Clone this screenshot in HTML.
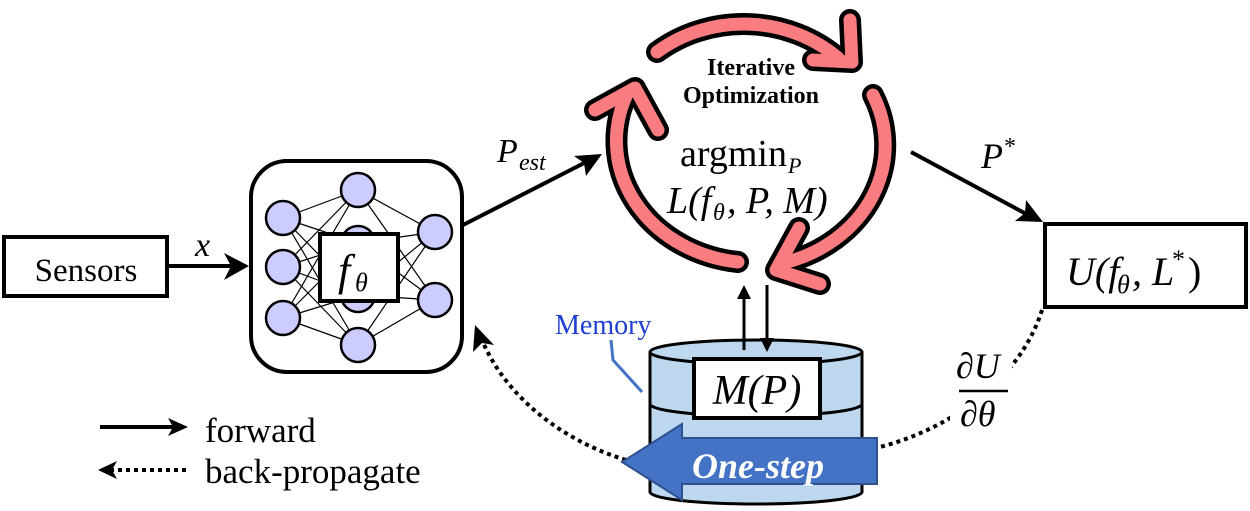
<!DOCTYPE html>
<html><head><meta charset="utf-8"><style>
html,body{margin:0;padding:0;background:#fff;}
svg{display:block;}
text{font-family:"Liberation Serif","DejaVu Serif",serif;}
</style></head><body>
<svg width="1250" height="511" viewBox="0 0 1250 511" xmlns="http://www.w3.org/2000/svg">

<!-- Sensors -->
<rect x="4" y="237" width="163" height="59" fill="#fff" stroke="#000" stroke-width="4"/>
<text x="86" y="281" font-size="33" text-anchor="middle">Sensors</text>
<line x1="167" y1="266" x2="236" y2="266" stroke="#000" stroke-width="4"/>
<polygon points="249,266 224,253 231,266 224,280" fill="#000"/>
<text x="195" y="256" font-size="34" font-style="italic">x</text>

<!-- NN box -->
<rect x="251" y="161" width="211" height="211" rx="36" fill="#fff" stroke="#000" stroke-width="4"/>
<g stroke="#000" stroke-width="1.2">
<line x1="283" y1="218" x2="358" y2="190"/><line x1="283" y1="218" x2="358" y2="243"/><line x1="283" y1="218" x2="358" y2="295"/><line x1="283" y1="218" x2="358" y2="345"/>
<line x1="283" y1="267" x2="358" y2="190"/><line x1="283" y1="267" x2="358" y2="243"/><line x1="283" y1="267" x2="358" y2="295"/><line x1="283" y1="267" x2="358" y2="345"/>
<line x1="283" y1="318" x2="358" y2="190"/><line x1="283" y1="318" x2="358" y2="243"/><line x1="283" y1="318" x2="358" y2="295"/><line x1="283" y1="318" x2="358" y2="345"/>
<line x1="358" y1="190" x2="435" y2="232"/><line x1="358" y1="190" x2="435" y2="300"/>
<line x1="358" y1="243" x2="435" y2="232"/><line x1="358" y1="243" x2="435" y2="300"/>
<line x1="358" y1="295" x2="435" y2="232"/><line x1="358" y1="295" x2="435" y2="300"/>
<line x1="358" y1="345" x2="435" y2="232"/><line x1="358" y1="345" x2="435" y2="300"/>
</g>
<g fill="#ccccff" stroke="#000" stroke-width="2.5">
<circle cx="283" cy="218" r="17"/><circle cx="283" cy="267" r="17"/><circle cx="283" cy="318" r="17"/>
<circle cx="358" cy="190" r="17"/><circle cx="358" cy="243" r="17"/><circle cx="358" cy="295" r="17"/><circle cx="358" cy="345" r="17"/>
<circle cx="435" cy="232" r="17"/><circle cx="435" cy="300" r="17"/>
</g>
<rect x="320" y="234" width="78" height="67" fill="#fff" stroke="#000" stroke-width="4"/>
<text x="338" y="285" font-size="44" font-style="italic">f</text>
<text x="355" y="291" font-size="26" font-style="italic">θ</text>

<!-- P_est arrow -->
<line x1="463" y1="225" x2="590" y2="160" stroke="#000" stroke-width="4"/>
<polygon points="602,154 574,156 584,163 586,176" fill="#000"/>
<text x="497" y="162" font-size="34" font-style="italic">P</text>
<text x="519" y="170" font-size="24" font-style="italic">est</text>

<!-- Cycle arrows -->
<g fill="none" stroke-linecap="round" stroke-linejoin="round">
<g stroke="#000" stroke-width="22">
<path d="M657,52 A138 126 0 0 1 838,58"/>
<polyline points="813,60 852,62 850,20"/>
<path d="M873,95 A138 122 0 0 1 787,262"/>
<polyline points="799,228 776,270 820,284"/>
<path d="M738,262 A138 122 0 0 1 628,92"/>
<polyline points="595,110 635,88 658,130"/>
</g>
<g stroke="#f87c80" stroke-width="13">
<path d="M657,52 A138 126 0 0 1 838,58"/>
<polyline points="813,60 852,62 850,20"/>
<path d="M873,95 A138 122 0 0 1 787,262"/>
<polyline points="799,228 776,270 820,284"/>
<path d="M738,262 A138 122 0 0 1 628,92"/>
<polyline points="595,110 635,88 658,130"/>
</g>
</g>
<text x="751" y="75" font-size="24" font-weight="bold" text-anchor="middle">Iterative</text>
<text x="751" y="103" font-size="24" font-weight="bold" text-anchor="middle">Optimization</text>
<text x="680" y="166" font-size="38">argmin</text>
<text x="788" y="173" font-size="22" font-style="italic">P</text>
<text x="667" y="213" font-size="38" font-style="italic">L(f</text>
<text x="713" y="220" font-size="24" font-style="italic">θ</text>
<text x="727" y="213" font-size="38" font-style="italic">, P, M)</text>

<!-- P* arrow -->
<line x1="911" y1="152" x2="1030" y2="216" stroke="#000" stroke-width="4"/>
<polygon points="1043,222 1015,221 1025,213 1026,200" fill="#000"/>
<text x="981" y="168" font-size="36" font-style="italic">P</text>
<text x="1004" y="154" font-size="24">*</text>

<!-- U box -->
<rect x="1045" y="224" width="201" height="83" fill="#fff" stroke="#000" stroke-width="4"/>
<text x="1066" y="285" font-size="40" font-style="italic">U(f</text>
<text x="1117" y="293" font-size="26" font-style="italic">θ</text>
<text x="1132" y="285" font-size="40" font-style="italic">, L</text>
<text x="1172" y="268" font-size="26">*</text>
<text x="1188" y="285" font-size="40">)</text>

<!-- dotted back-prop -->
<path d="M1042,310 C1020,380 950,430 876,448" fill="none" stroke="#000" stroke-width="4" stroke-dasharray="4 4"/>
<path d="M626,460 C560,440 505,395 482,340" fill="none" stroke="#000" stroke-width="4" stroke-dasharray="4 4"/>
<polygon points="475,325 473,352 482,343 494,345" fill="#000"/>
<rect x="950" y="345" width="62" height="90" fill="#fff"/>
<text x="956" y="378" font-size="36" font-style="italic">∂U</text>
<line x1="959" y1="391" x2="1008" y2="391" stroke="#000" stroke-width="2.5"/>
<text x="960" y="426" font-size="36" font-style="italic">∂θ</text>

<!-- Memory cylinder -->
<path d="M650,352 L650,492 A106 12 0 0 0 862,492 L862,352" fill="#bdd7ee" stroke="#000" stroke-width="3"/>
<ellipse cx="756" cy="352" rx="106" ry="12" fill="#bdd7ee" stroke="#000" stroke-width="3"/>
<path d="M650,404 A106 12 0 0 0 862,404" fill="none" stroke="#000" stroke-width="3"/>
<rect x="694" y="359" width="126" height="59" fill="#fff" stroke="#000" stroke-width="4"/>
<text x="757" y="404" font-size="42" font-style="italic" text-anchor="middle">M(P)</text>
<text x="555" y="334" font-size="28" fill="#1f3fd0">Memory</text>
<polyline points="611,340 613,360 642,392" fill="none" stroke="#4472c4" stroke-width="3"/>
<polygon points="622,462 682,424 682,438 877,438 877,484 682,484 682,500" fill="#4472c4" stroke="#2f528f" stroke-width="2"/>
<text x="758" y="478" font-size="36" font-weight="bold" font-style="italic" fill="#fff" text-anchor="middle">One-step</text>

<!-- vertical arrows -->
<line x1="744" y1="350" x2="744" y2="296" stroke="#000" stroke-width="3"/>
<polygon points="744,285 737,299 751,299" fill="#000"/>
<line x1="767" y1="285" x2="767" y2="340" stroke="#000" stroke-width="3"/>
<polygon points="767,352 760,338 774,338" fill="#000"/>

<!-- legend -->
<line x1="100" y1="427" x2="176" y2="427" stroke="#000" stroke-width="4"/>
<polygon points="188,427 168,418 173,427 168,436" fill="#000"/>
<text x="205" y="442" font-size="35">forward</text>
<line x1="110" y1="470" x2="188" y2="470" stroke="#000" stroke-width="4" stroke-dasharray="4 4"/>
<polygon points="98,470 117,461 112,470 117,479" fill="#000"/>
<text x="205" y="483" font-size="35">back-propagate</text>
</svg>
</body></html>
